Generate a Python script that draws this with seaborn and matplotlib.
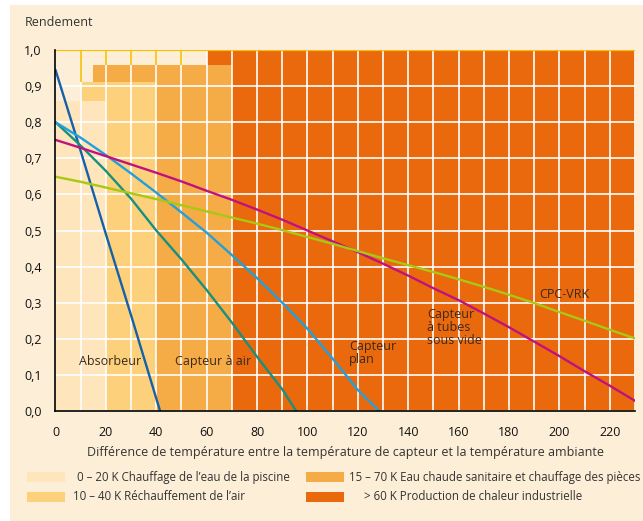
import matplotlib
matplotlib.use("Agg")
import matplotlib.pyplot as plt
from matplotlib.patches import Rectangle
import numpy as np
import pandas as pd
import seaborn as sns

# zones d'utilisation (ordre de la légende)
zone_labels = ["0 – 20 K Chauffage de l’eau de la piscine",
               "10 – 40 K Réchauffement de l’air",
               "15 – 70 K Eau chaude sanitaire et chauffage des pièces",
               "> 60 K Production de chaleur industrielle"]
zone_start = [0, 10, 15, 60]
zone_end = [20, 40, 70, 230]
zone_top = [0.86, 0.912, 0.958, 1.0]
zone_colors = ["#fee5bc", "#fdd17b", "#f5ab46", "#ea690d"]

# courbes de rendement
absorbeur_x = [0, 10, 20, 30, 41.5]
absorbeur_y = [0.945, 0.72, 0.49, 0.265, 0.0]

air_x = [0, 10, 20, 30, 40, 50, 60, 70, 80, 90, 95.5]
air_y = [0.80, 0.735, 0.665, 0.588, 0.50, 0.42, 0.335, 0.245, 0.15, 0.06, 0.0]

plan_x = [0, 10, 20, 30, 40, 50, 60, 70, 80, 90, 100, 110, 120, 128.5]
plan_y = [0.80, 0.757, 0.709, 0.658, 0.605, 0.55, 0.494, 0.432, 0.368, 0.30,
          0.228, 0.145, 0.058, 0.0]

tubes_x = list(range(0, 231, 10))
tubes_y = [0.751, 0.729, 0.706, 0.683, 0.66, 0.636, 0.61, 0.585, 0.558, 0.53,
           0.50, 0.47, 0.44, 0.408, 0.375, 0.34, 0.307, 0.27, 0.232, 0.192,
           0.152, 0.11, 0.07, 0.028]

cpc_x = list(range(0, 231, 10))
cpc_y = [0.649, 0.635, 0.619, 0.603, 0.587, 0.570, 0.553, 0.536, 0.519, 0.501,
         0.482, 0.463, 0.443, 0.423, 0.404, 0.385, 0.365, 0.344, 0.322, 0.299,
         0.274, 0.25, 0.225, 0.201]

courbes = {"Absorbeur": (absorbeur_x, absorbeur_y),
           "Capteur à air": (air_x, air_y),
           "Capteur plan": (plan_x, plan_y),
           "Capteur à tubes": (tubes_x, tubes_y),
           "CPC-VRK": (cpc_x, cpc_y)}
couleurs = {"Absorbeur": "#1560a8", "Capteur à air": "#17907f",
            "Capteur plan": "#20a0dc", "Capteur à tubes": "#c0127e",
            "CPC-VRK": "#a8c814"}

x_ticks = list(range(0, 221, 20))
y_ticks = [i / 10 for i in range(11)]

cream = "#fdefd7"
gold = "#f5c000"

sns.set_style("white")
plt.rcParams["font.family"] = ["Open Sans", "DejaVu Sans"]
plt.rcParams["font.size"] = 9

fig = plt.figure(figsize=(6.43, 5.21), dpi=100)
fig.patch.set_facecolor("white")
fig.add_artist(Rectangle((10 / 643, 0), 1, 1 - 5 / 521, transform=fig.transFigure,
                         facecolor=cream, edgecolor="none", zorder=-10))
ax = fig.add_axes([0.0863, 0.2111, 0.9014, 0.6929])
ax.set_facecolor(cream)

# zones colorées, de la plus large à la plus étroite
for i in reversed(range(len(zone_start))):
    ax.bar(zone_start[i], zone_top[i], width=zone_end[i] - zone_start[i],
           align="edge", color=zone_colors[i], linewidth=0, zorder=1)

# petits traits dorés au-dessus des zones
for gx in range(10, 61, 10):
    haut = max([t for s, e, t in zip(zone_start, zone_end, zone_top) if s <= gx <= e])
    if haut < 1.0:
        ax.vlines(gx, haut, 1.0, color=gold, lw=1.2, zorder=1.8)
ax.axhline(1.0, color=gold, lw=1.6, zorder=1.9)

rows = []
for nom, (xs, ys) in courbes.items():
    for xv, yv in zip(xs, ys):
        rows.append({"dT": xv, "rendement": yv, "capteur": nom})
df = pd.DataFrame(rows)

sns.lineplot(data=df, x="dT", y="rendement", hue="capteur", palette=couleurs,
             estimator=None, legend=False, linewidth=1.7, ax=ax, zorder=3)

ax.set_xlim(0, 230)
ax.set_ylim(0, 1.0)
ax.set_xticks(x_ticks)
ax.set_xticks(range(10, 231, 20), minor=True)
ax.set_yticks(y_ticks)
ax.set_yticklabels([f"{v:.1f}".replace(".", ",") for v in y_ticks])
ax.set_axisbelow("line")
ax.grid(True, which="both", color="white", lw=1.2)
ax.tick_params(axis="both", which="both", direction="out", length=5, width=1,
               color="black", labelsize=9, labelcolor="#111111")
ax.tick_params(axis="x", pad=6)
ax.tick_params(axis="y", pad=5)
for side in ["top", "right"]:
    ax.spines[side].set_visible(False)
for side in ["left", "bottom"]:
    ax.spines[side].set_color("black")
    ax.spines[side].set_linewidth(1.2)
    ax.spines[side].set_zorder(4)
ax.set_xlabel("Différence de température entre la température de capteur et la température ambiante",
              fontsize=9, color="#333333", labelpad=5)
ax.set_ylabel("")

txt = dict(fontsize=9, color="#3a2a1a", va="center", ha="left", zorder=5)
ax.text(9.3, 0.136, "Absorbeur", **txt)
ax.text(47.4, 0.136, "Capteur à air", **txt)
ax.text(116.5, 0.16, "Capteur\nplan", linespacing=1.0, **txt)
ax.text(147.4, 0.23, "Capteur\nà tubes\nsous vide", linespacing=1.0, **txt)
ax.text(191.8, 0.324, "CPC-VRK", **txt)

fig.text(25 / 643, 1 - 23 / 521, "Rendement", fontsize=9, color="#333333",
         va="center", ha="left")

# légende des zones
patch_x = [27 / 643, 27 / 643, 306 / 643, 306 / 643]
text_x = [77 / 643, 72.7 / 643, 349 / 643, 364 / 643]
row_y = [1 - 477 / 521, 1 - 497 / 521, 1 - 477 / 521, 1 - 497 / 521]
for i in range(len(zone_labels)):
    fig.add_artist(Rectangle((patch_x[i], row_y[i] - 5 / 521), 38 / 643, 10.5 / 521,
                             transform=fig.transFigure, facecolor=zone_colors[i],
                             edgecolor="none"))
    fig.text(text_x[i], row_y[i], zone_labels[i], fontsize=8.3, color="#333333",
             va="center", ha="left")

fig.savefig("out.png", dpi=100, facecolor=fig.get_facecolor())
